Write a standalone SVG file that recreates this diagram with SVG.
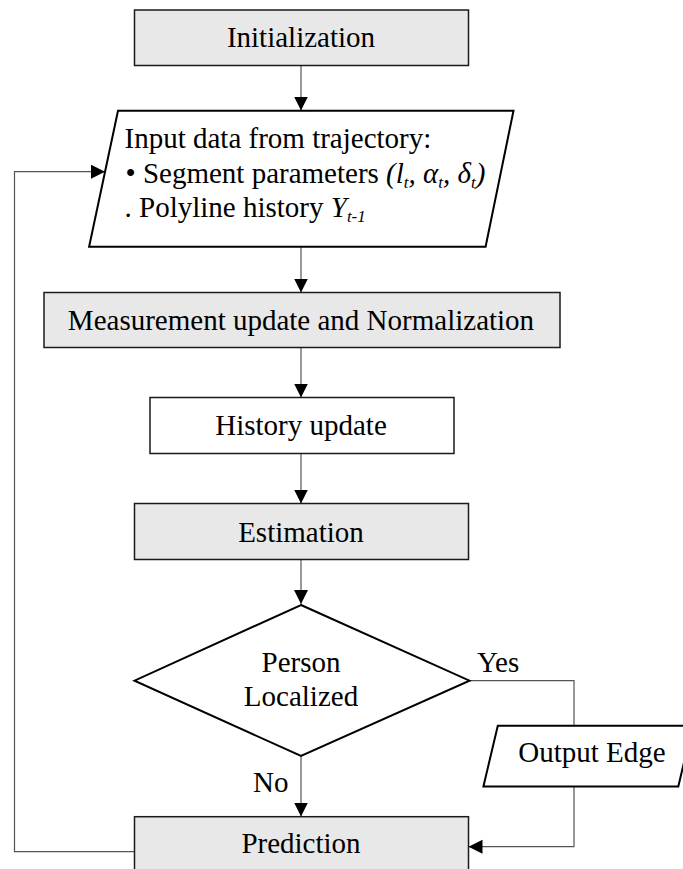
<svg xmlns="http://www.w3.org/2000/svg" width="683" height="869" viewBox="0 0 683 869">
<style>
  .box { fill: #e8e8e8; stroke: #1a1a1a; stroke-width: 1.5; }
  .wbox { fill: #ffffff; stroke: #1a1a1a; stroke-width: 1.5; }
  .shape { fill: #ffffff; stroke: #000000; stroke-width: 2; }
  .t { font-family: "Liberation Serif", "Times New Roman", serif; font-size: 29px; fill: #000; }
  .c { text-anchor: middle; }
  .i { font-style: italic; }
  .sub { font-size: 17px; font-style: italic; }
  .conn { fill: none; stroke: #555555; stroke-width: 1.2; }
</style>
<defs>
  <marker id="arr" markerUnits="userSpaceOnUse" markerWidth="15" markerHeight="15" refX="14" refY="7" orient="auto">
    <path d="M0,0 L14,7 L0,14 z" fill="#000"/>
  </marker>
</defs>
<g id="connectors">
  <line class="conn" x1="301" y1="65" x2="301" y2="110.5" marker-end="url(#arr)"/>
  <line class="conn" x1="301" y1="247" x2="301" y2="292.5" marker-end="url(#arr)"/>
  <line class="conn" x1="301" y1="347.5" x2="301" y2="397.5" marker-end="url(#arr)"/>
  <line class="conn" x1="301" y1="453.5" x2="301" y2="503.5" marker-end="url(#arr)"/>
  <line class="conn" x1="301" y1="559.5" x2="301" y2="604" marker-end="url(#arr)"/>
  <line class="conn" x1="301" y1="756" x2="301" y2="816.5" marker-end="url(#arr)"/>
  <polyline class="conn" points="469.5,680.7 574,680.7 574,725.7"/>
  <polyline class="conn" points="574,786.5 574,846.7 468.5,846.7" marker-end="url(#arr)"/>
  <polyline class="conn" points="134.5,851.7 14.5,851.7 14.5,171.7 105,171.7" marker-end="url(#arr)"/>
</g>
<g id="initialization">
  <rect class="box" x="134.5" y="10" width="334" height="55.5"/>
  <text class="t c" x="301" y="46.5">Initialization</text>
</g>
<g id="input">
  <polygon class="shape" points="118,110.7 513.5,110.7 485.6,246.7 89.1,246.7"/>
  <text class="t" x="124.5" y="148.3">Input data from trajectory:</text>
  <text class="t" x="125.5" y="182.7">• Segment parameters <tspan class="i">(l</tspan><tspan class="sub" dy="5">t</tspan><tspan class="i" dy="-5">, α</tspan><tspan class="sub" dy="5">t</tspan><tspan class="i" dy="-5">, δ</tspan><tspan class="sub" dy="5">t</tspan><tspan class="i" dy="-5">)</tspan></text>
  <text class="t" x="124.5" y="216.7">. Polyline history <tspan class="i">Y</tspan><tspan class="sub" dy="5">t-1</tspan></text>
</g>
<g id="measurement">
  <rect class="box" x="44" y="292.5" width="516" height="55"/>
  <text class="t c" x="301" y="330">Measurement update and Normalization</text>
</g>
<g id="history">
  <rect class="wbox" x="150" y="397.5" width="304" height="56"/>
  <text class="t c" x="301" y="435">History update</text>
</g>
<g id="estimation">
  <rect class="box" x="134.5" y="503.5" width="334" height="56"/>
  <text class="t c" x="301" y="541.5">Estimation</text>
</g>
<g id="decision">
  <polygon class="shape" points="301,605 469.5,680.7 301,756 134.5,680.7"/>
  <text class="t c" x="301" y="671.7">Person</text>
  <text class="t c" x="301" y="705.7">Localized</text>
  <text class="t" x="477" y="671.7">Yes</text>
  <text class="t" x="253" y="792.3">No</text>
</g>
<g id="output">
  <polygon class="shape" points="497.8,725.7 692.7,725.7 678.3,786.5 483.4,786.5"/>
  <text class="t" x="518.3" y="761.7">Output Edge</text>
</g>
<g id="prediction">
  <rect class="box" x="134.5" y="816.7" width="334" height="56"/>
  <text class="t c" x="301" y="853.3">Prediction</text>
</g>
</svg>
